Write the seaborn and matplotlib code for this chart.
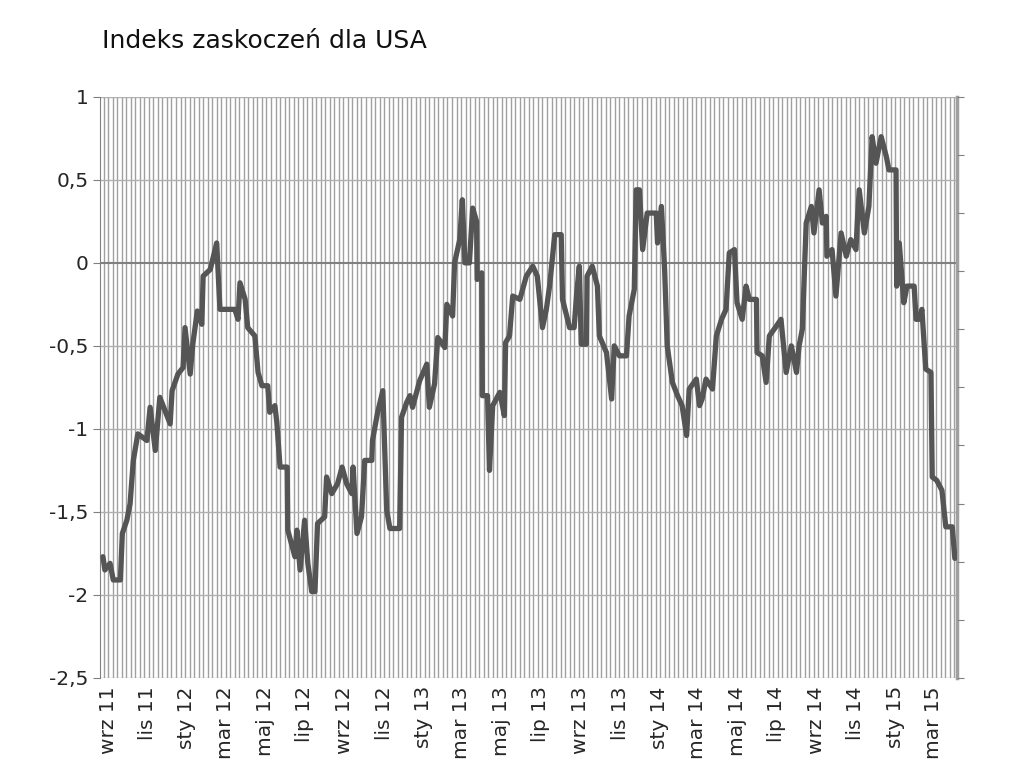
import pandas as pd
import matplotlib
matplotlib.use("Agg")
import matplotlib.pyplot as plt
import seaborn as sns

# days since 2011-09-01 and index value
days = [-8, -5, 3, 8, 19, 22, 29, 34, 39, 46, 60, 65, 73, 80, 88, 96, 99, 108, 116, 119,
        127, 131, 138, 145, 147, 158, 168, 173, 196, 201, 204, 212, 216, 227, 232, 238, 247, 250,
        258, 261, 266, 277, 278, 289, 292, 297, 304, 309, 315, 320, 324, 335, 338, 346, 355, 362,
        369, 377, 379, 385, 392, 397, 408, 409, 417, 425, 431, 436, 451, 454, 462, 467, 471, 482,
        493, 497, 505, 510, 521, 524, 533, 536, 544, 548, 552, 559, 564, 570, 571, 578, 579, 587,
        590, 595, 606, 613, 615, 621, 626, 637, 647, 657, 664, 672, 678, 683, 691, 701, 703, 714,
        721, 725, 729, 732, 740, 741, 749, 757, 760, 771, 779, 783, 791, 802, 806, 814, 817, 822,
        827, 834, 848, 850, 856, 861, 865, 873, 881, 888, 895, 899, 910, 915, 919, 925, 935, 941,
        949, 956, 961, 969, 973, 981, 987, 992, 1003, 1004, 1012, 1018, 1023, 1034, 1041, 1049,
        1057, 1065, 1069, 1074, 1080, 1088, 1092, 1100, 1105, 1111, 1112, 1120, 1126, 1134, 1142,
        1149, 1157, 1159, 1162, 1170, 1177, 1182, 1188, 1196, 1204, 1208, 1219, 1220, 1224, 1231,
        1236, 1247, 1250, 1255, 1259, 1265, 1273, 1275, 1282, 1290, 1296, 1306, 1310]
values = [-1.77, -1.85, -1.81, -1.91, -1.91, -1.63, -1.55, -1.45, -1.19, -1.03, -1.07, -0.87,
          -1.13, -0.81, -0.89, -0.97, -0.77, -0.67, -0.63, -0.39, -0.67, -0.49, -0.29, -0.37,
          -0.08, -0.04, 0.12, -0.28, -0.28, -0.34, -0.12, -0.22, -0.39, -0.44, -0.66, -0.74,
          -0.74, -0.90, -0.86, -0.96, -1.23, -1.23, -1.61, -1.77, -1.61, -1.85, -1.55, -1.81,
          -1.98, -1.98, -1.57, -1.53, -1.29, -1.39, -1.33, -1.23, -1.33, -1.39, -1.23, -1.63,
          -1.53, -1.19, -1.19, -1.07, -0.90, -0.77, -1.49, -1.60, -1.60, -0.93, -0.84, -0.80,
          -0.87, -0.71, -0.61, -0.87, -0.73, -0.45, -0.51, -0.25, -0.32, 0.0, 0.14, 0.38, 0.0,
          0.0, 0.33, 0.25, -0.10, -0.06, -0.80, -0.80, -1.25, -0.86, -0.78, -0.92, -0.48, -0.44,
          -0.20, -0.22, -0.08, -0.02, -0.08, -0.39, -0.28, -0.14, 0.17, 0.17, -0.22, -0.39,
          -0.39, -0.18, -0.02, -0.49, -0.49, -0.08, -0.02, -0.14, -0.44, -0.54, -0.82, -0.50,
          -0.56, -0.56, -0.32, -0.16, 0.44, 0.44, 0.08, 0.30, 0.30, 0.12, 0.34, -0.04, -0.50,
          -0.72, -0.80, -0.86, -1.04, -0.76, -0.70, -0.86, -0.82, -0.70, -0.76, -0.44, -0.34,
          -0.28, 0.06, 0.08, -0.24, -0.34, -0.14, -0.22, -0.22, -0.54, -0.56, -0.72, -0.44,
          -0.38, -0.34, -0.66, -0.50, -0.66, -0.50, -0.40, 0.24, 0.34, 0.18, 0.44, 0.24, 0.28,
          0.04, 0.08, -0.20, 0.18, 0.04, 0.14, 0.08, 0.24, 0.44, 0.18, 0.34, 0.76, 0.60, 0.76,
          0.64, 0.56, 0.56, -0.14, 0.12, -0.24, -0.14, -0.14, -0.34, -0.34, -0.28, -0.64, -0.66,
          -1.29, -1.31, -1.37, -1.59, -1.59, -1.78]

start = pd.Timestamp("2011-09-01")
df = pd.DataFrame({"date": start + pd.to_timedelta(days, unit="D"), "value": values})

month_labels = ["sty", "lut", "mar", "kwi", "maj", "cze", "lip", "sie", "wrz", "paź", "lis", "gru"]

sns.set_style("white")
plt.rcParams["font.family"] = ["DejaVu Sans"]

fig = plt.figure(figsize=(10.24, 7.81), dpi=100)
ax = fig.add_axes([0.098, 0.132, 0.837, 0.744])

# dense weekly vertical grid
for d in pd.date_range("2011-08-25", "2015-04-30", freq="7D"):
    ax.axvline(d, color="#a0a0a0", lw=1.0, zorder=0)
for y in [-2.5, -2, -1.5, -1, -0.5, 0.5, 1]:
    ax.axhline(y, color="#b0b0b0", lw=1.0, zorder=1)
ax.axhline(0, color="#808080", lw=1.5, zorder=1)

sns.lineplot(data=df, x="date", y="value", ax=ax, color="#555555", lw=3.8, zorder=3)

ax.set_xlim(pd.Timestamp("2011-08-20"), pd.Timestamp("2015-04-07"))
ax.set_ylim(-2.5, 1)
ax.set_yticks([-2.5, -2, -1.5, -1, -0.5, 0, 0.5, 1])
ax.set_yticklabels(["-2,5", "-2", "-1,5", "-1", "-0,5", "0", "0,5", "1"], fontsize=14.5)

ticks = pd.date_range("2011-09-01", "2015-03-01", freq="2MS")
ax.set_xticks(ticks)
ax.set_xticklabels([f"{month_labels[t.month - 1]} {t.year % 100:02d}" for t in ticks],
                   rotation=90, fontsize=14.5)
ax.tick_params(axis="x", length=0, pad=6)
ax.tick_params(axis="y", length=5, color="#808080", left=True)
ax.set_xlabel("")
ax.set_ylabel("")
for side in ["top", "bottom"]:
    ax.spines[side].set_visible(False)
ax.spines["left"].set_color("#808080")
ax.spines["right"].set_color("#a0a0a0")
ax.spines["right"].set_linewidth(2.5)

ax2 = ax.twinx()
ax2.set_ylim(0, 10)
ax2.set_yticks(range(11))
ax2.set_yticklabels([])
ax2.tick_params(axis="y", length=5, color="#808080", right=True)
for side in ["top", "bottom", "left", "right"]:
    ax2.spines[side].set_visible(False)

fig.text(0.1, 0.948, "Indeks zaskoczeń dla USA", fontsize=18, ha="left", va="center",
         color="#111111")

plt.savefig("out.png", dpi=100)
plt.close()
